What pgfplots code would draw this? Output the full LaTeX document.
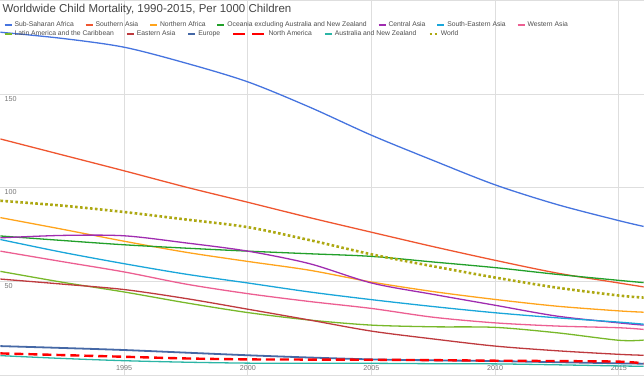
\documentclass[border=0pt]{standalone}
\usepackage{pgfplots}
\pgfplotsset{compat=1.18}
\usepackage{fontspec}
\setmainfont{Liberation Sans}
\definecolor{cSSA}{HTML}{4674DF}
\definecolor{cSA}{HTML}{EF5630}
\definecolor{cNA}{HTML}{FFA41C}
\definecolor{cOC}{HTML}{22A02A}
\definecolor{cCA}{HTML}{A02CB0}
\definecolor{cSEA}{HTML}{1AA6DA}
\definecolor{cWA}{HTML}{EC5F92}
\definecolor{cLA}{HTML}{78B82A}
\definecolor{cEA}{HTML}{BE3A3E}
\definecolor{cEU}{HTML}{4568A6}
\definecolor{cNAm}{HTML}{FF0000}
\definecolor{cAU}{HTML}{2CB5A6}
\definecolor{cW}{HTML}{ADA812}
\definecolor{tgray}{HTML}{444444}
\definecolor{lgray}{HTML}{4D4D4D}
\definecolor{kgray}{HTML}{777777}
\pgfplotsset{
  base/.style={
    scale only axis, width=644bp, height=375bp,
    xmin=1990, xmax=2016, ymin=0, ymax=200,
  },
  normleg/.style={legend image code/.code={\draw[##1, line width=2bp, solid] (0bp,0bp) -- (7bp,0bp);}},
  dashleg/.style={legend image code/.code={\draw[##1] (0bp,0bp) -- (32bp,0bp);}},
  dotleg/.style={legend image code/.code={\draw[##1] (0bp,0bp) -- (8bp,0bp);}},
  legfont/.style={font=\fontsize{6.8bp}{8bp}\selectfont, text=lgray},
}
\begin{document}
\begin{tikzpicture}
\begin{axis}[
  base,
  axis line style={draw=none},
  major tick length=0pt,
  xtick={1995,2000,2005,2010,2015},
  ytick={0,50,100,150,200},
  yticklabels={,50,100,150,},
  grid=major,
  major grid style={draw=black!13, line width=0.8bp},
  /pgf/number format/assume math mode=true,
  /pgf/number format/1000 sep={},
  xticklabel style={anchor=south, inner sep=0pt, yshift=4bp, font=\fontsize{7.2bp}{9bp}\selectfont, text=kgray},
  yticklabel style={anchor=north west, inner sep=0pt, xshift=4bp, yshift=-2bp, font=\fontsize{7.2bp}{9bp}\selectfont, text=kgray},
  every axis title shift=0pt,
  title={Worldwide Child Mortality, 1990-2015, Per 1000 Children},
  title style={at={(0,1)}, anchor=north west, inner sep=0pt, xshift=2bp, yshift=-3.5bp, font=\fontsize{11.5bp}{14bp}\selectfont, text=tgray},
  legend columns=7,
  legend cell align=left,
  legend style={at={(0,1)}, anchor=north west, xshift=3bp, yshift=-19bp, draw=none, fill=none, inner sep=0pt, legfont,
    /tikz/every even column/.append style={column sep=8.8bp}},
  every axis plot/.append style={smooth, line width=1.3bp},
  normleg,
]
\addplot[cSSA] coordinates {(1990,183)(1992.5,179.7)(1995,175)(1997.5,166.5)(2000,156.5)(2002.5,143)(2005,128)(2007.5,114.5)(2010,101.5)(2012.5,91)(2015,82.4)(2016,79.3)};
\addlegendentry{Sub-Saharan Africa}
\addplot[cSA] coordinates {(1990,126)(1992.5,117.5)(1995,109)(1997.5,100.3)(2000,92.2)(2002.5,84)(2005,76.2)(2007.5,68.5)(2010,61.2)(2012.5,54.4)(2015,49.1)(2016,47)};
\addlegendentry{Southern Asia}
\addplot[cNA] coordinates {(1990,84)(1992.5,77.8)(1995,71.4)(1997.5,65.5)(2000,60.6)(2002.5,55.9)(2005,49.6)(2007.5,44.5)(2010,40.3)(2012.5,36.7)(2015,34.2)(2016,33.5)};
\addlegendentry{Northern Africa}
\addplot[cOC] coordinates {(1990,74.2)(1992.5,71.8)(1995,69.5)(1997.5,67.7)(2000,66.1)(2002.5,64.7)(2005,63.3)(2007.5,60.3)(2010,57.3)(2012.5,53.7)(2015,50.5)(2016,49.3)};
\addlegendentry{Oceania excluding Australia and New Zealand}
\addplot[cCA] coordinates {(1990,73.2)(1992.5,74.5)(1995,74.3)(1997.5,70.5)(2000,66.1)(2002.5,59.4)(2005,49.1)(2007.5,43)(2010,37.2)(2012.5,31.4)(2015,27.8)(2016,26.6)};
\addlegendentry{Central Asia}
\addplot[cSEA] coordinates {(1990,72.3)(1992.5,65.5)(1995,59.4)(1997.5,53.8)(2000,49.1)(2002.5,44.3)(2005,40.2)(2007.5,36.5)(2010,33.2)(2012.5,30.5)(2015,28.2)(2016,27.1)};
\addlegendentry{South-Eastern Asia}
\addplot[cWA] coordinates {(1990,66.1)(1992.5,60.5)(1995,55)(1997.5,48.5)(2000,43.4)(2002.5,39.2)(2005,35.5)(2007.5,30.8)(2010,27.8)(2012.5,26.1)(2015,25.2)(2016,24.3)};
\addlegendentry{Western Asia}
\addplot[cLA, forget plot] coordinates {(1990,55.3)(1992.5,49.5)(1995,44.3)(1997.5,38.5)(2000,33.3)(2002.5,29.3)(2005,26.6)(2007.5,25.7)(2010,25.4)(2012.5,22.5)(2015,18.5)(2016,18.6)};
\addplot[cEA, forget plot] coordinates {(1990,51.2)(1992.5,48.5)(1995,45.6)(1997.5,40.8)(2000,35.1)(2002.5,29.3)(2005,23.4)(2007.5,19.2)(2010,15.4)(2012.5,12.9)(2015,11)(2016,10.5)};
\addplot[cEU, forget plot, line width=1.8bp] coordinates {(1990,15.4)(1992.5,14.4)(1995,13.3)(1997.5,11.9)(2000,10.5)(2002.5,9.3)(2005,8.3)(2007.5,7.8)(2010,7.4)(2012.5,6.8)(2015,6.2)(2016,6.0)};
\addplot[cAU, forget plot] coordinates {(1990,10.3)(1992.5,8.8)(1995,7.6)(1997.5,6.8)(2000,6.3)(2002.5,6.2)(2005,6.2)(2007.5,6.0)(2010,5.9)(2012.5,5.4)(2015,4.8)(2016,4.6)};
\addplot[cNAm, forget plot, line width=2.4bp, dash pattern=on 9bp off 5bp] coordinates {(1990,11.5)(1992.5,10.6)(1995,9.7)(1997.5,8.8)(2000,8.3)(2002.5,8.2)(2005,8.1)(2007.5,7.9)(2010,7.6)(2012.5,7.4)(2015,7.1)(2016,6.2)};
\addplot[cW, forget plot, line width=2.6bp, dash pattern=on 2.6bp off 2.4bp] coordinates {(1990,93)(1992.5,90.4)(1995,87)(1997.5,83)(2000,78.9)(2002.5,72)(2005,64.4)(2007.5,58)(2010,52)(2012.5,46.6)(2015,42.4)(2016,41.3)};
\end{axis}
\begin{axis}[
  base,
  hide axis,
  legend columns=6,
  legend cell align=left,
  legend style={at={(0,1)}, anchor=north west, xshift=3bp, yshift=-28bp, draw=none, fill=none, inner sep=0pt, legfont,
    /tikz/every even column/.append style={column sep=10bp}},
]
\addlegendimage{cLA, normleg}
\addlegendentry{Latin America and the Caribbean}
\addlegendimage{cEA, normleg}
\addlegendentry{Eastern Asia}
\addlegendimage{cEU, normleg}
\addlegendentry{Europe}
\addlegendimage{cNAm, line width=2.4bp, dash pattern=on 12bp off 7bp, dashleg}
\addlegendentry{North America}
\addlegendimage{cAU, normleg}
\addlegendentry{Australia and New Zealand}
\addlegendimage{cW, line width=2.4bp, dash pattern=on 2.4bp off 2.6bp, dotleg}
\addlegendentry{World}
\end{axis}
\end{tikzpicture}
\end{document}
